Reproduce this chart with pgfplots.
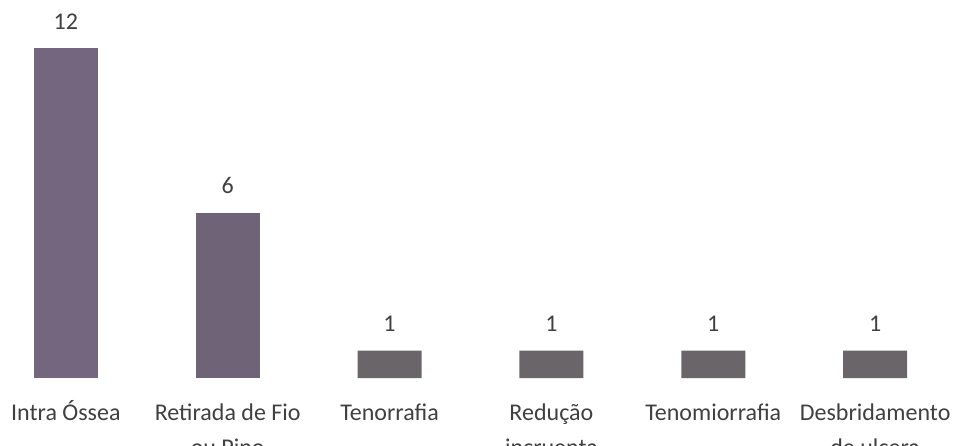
\documentclass[border=0pt]{standalone}
\usepackage{pgfplots}
\pgfplotsset{compat=1.18}
\usepackage{fontspec}
\setmainfont{Carlito}
\definecolor{barA}{HTML}{74667E}
\definecolor{barB}{HTML}{6E6377}
\definecolor{barC}{HTML}{6A6569}
\definecolor{txt}{HTML}{404040}
\newcommand{\st}{\rule{0pt}{10pt}}
\begin{document}
\begin{tikzpicture}
\begin{axis}[
  scale only axis,
  width=479pt, height=189pt,
  xmin=-0.407, xmax=5.512,
  ymin=0, ymax=13.75,
  axis lines=none,
  ybar, bar width=32pt, bar shift=0pt,
  xtick={0,1,2,3,4,5},
  nodes near coords,
  every node near coord/.append style={font=\fontsize{12}{14}\selectfont, text=txt, yshift=6pt},
  /pgf/number format/assume math mode=true,
]
\addplot[fill=barA, draw=none] coordinates {(0,12)};
\addplot[fill=barB, draw=none] coordinates {(1,6)};
\addplot[fill=barC, draw=none] coordinates {(2,1) (3,1) (4,1) (5,1)};
\end{axis}
\begin{axis}[
  scale only axis,
  width=479pt, height=189pt,
  xmin=-0.407, xmax=5.512,
  ymin=0, ymax=13.75,
  axis x line*=bottom, axis y line=none,
  x axis line style={draw=none},
  xtick={0,1,2,3,4,5},
  major tick length=0pt,
  xticklabels={\st Intra Óssea, {\st Retirada de Fio\\ou Pino}, \st Tenorrafia, {\st Redução\\incruenta}, \st Tenomiorrafia, {\st Desbridamento\\de ulcera}},
  xticklabel style={font=\fontsize{12}{17.5}\selectfont, text=txt, align=center, anchor=north, yshift=-7.5pt},
]
\end{axis}
\pgfresetboundingbox
\path[use as bounding box] ([yshift=-33.5pt]current axis.south west) rectangle (current axis.north east);
\end{tikzpicture}
\end{document}
